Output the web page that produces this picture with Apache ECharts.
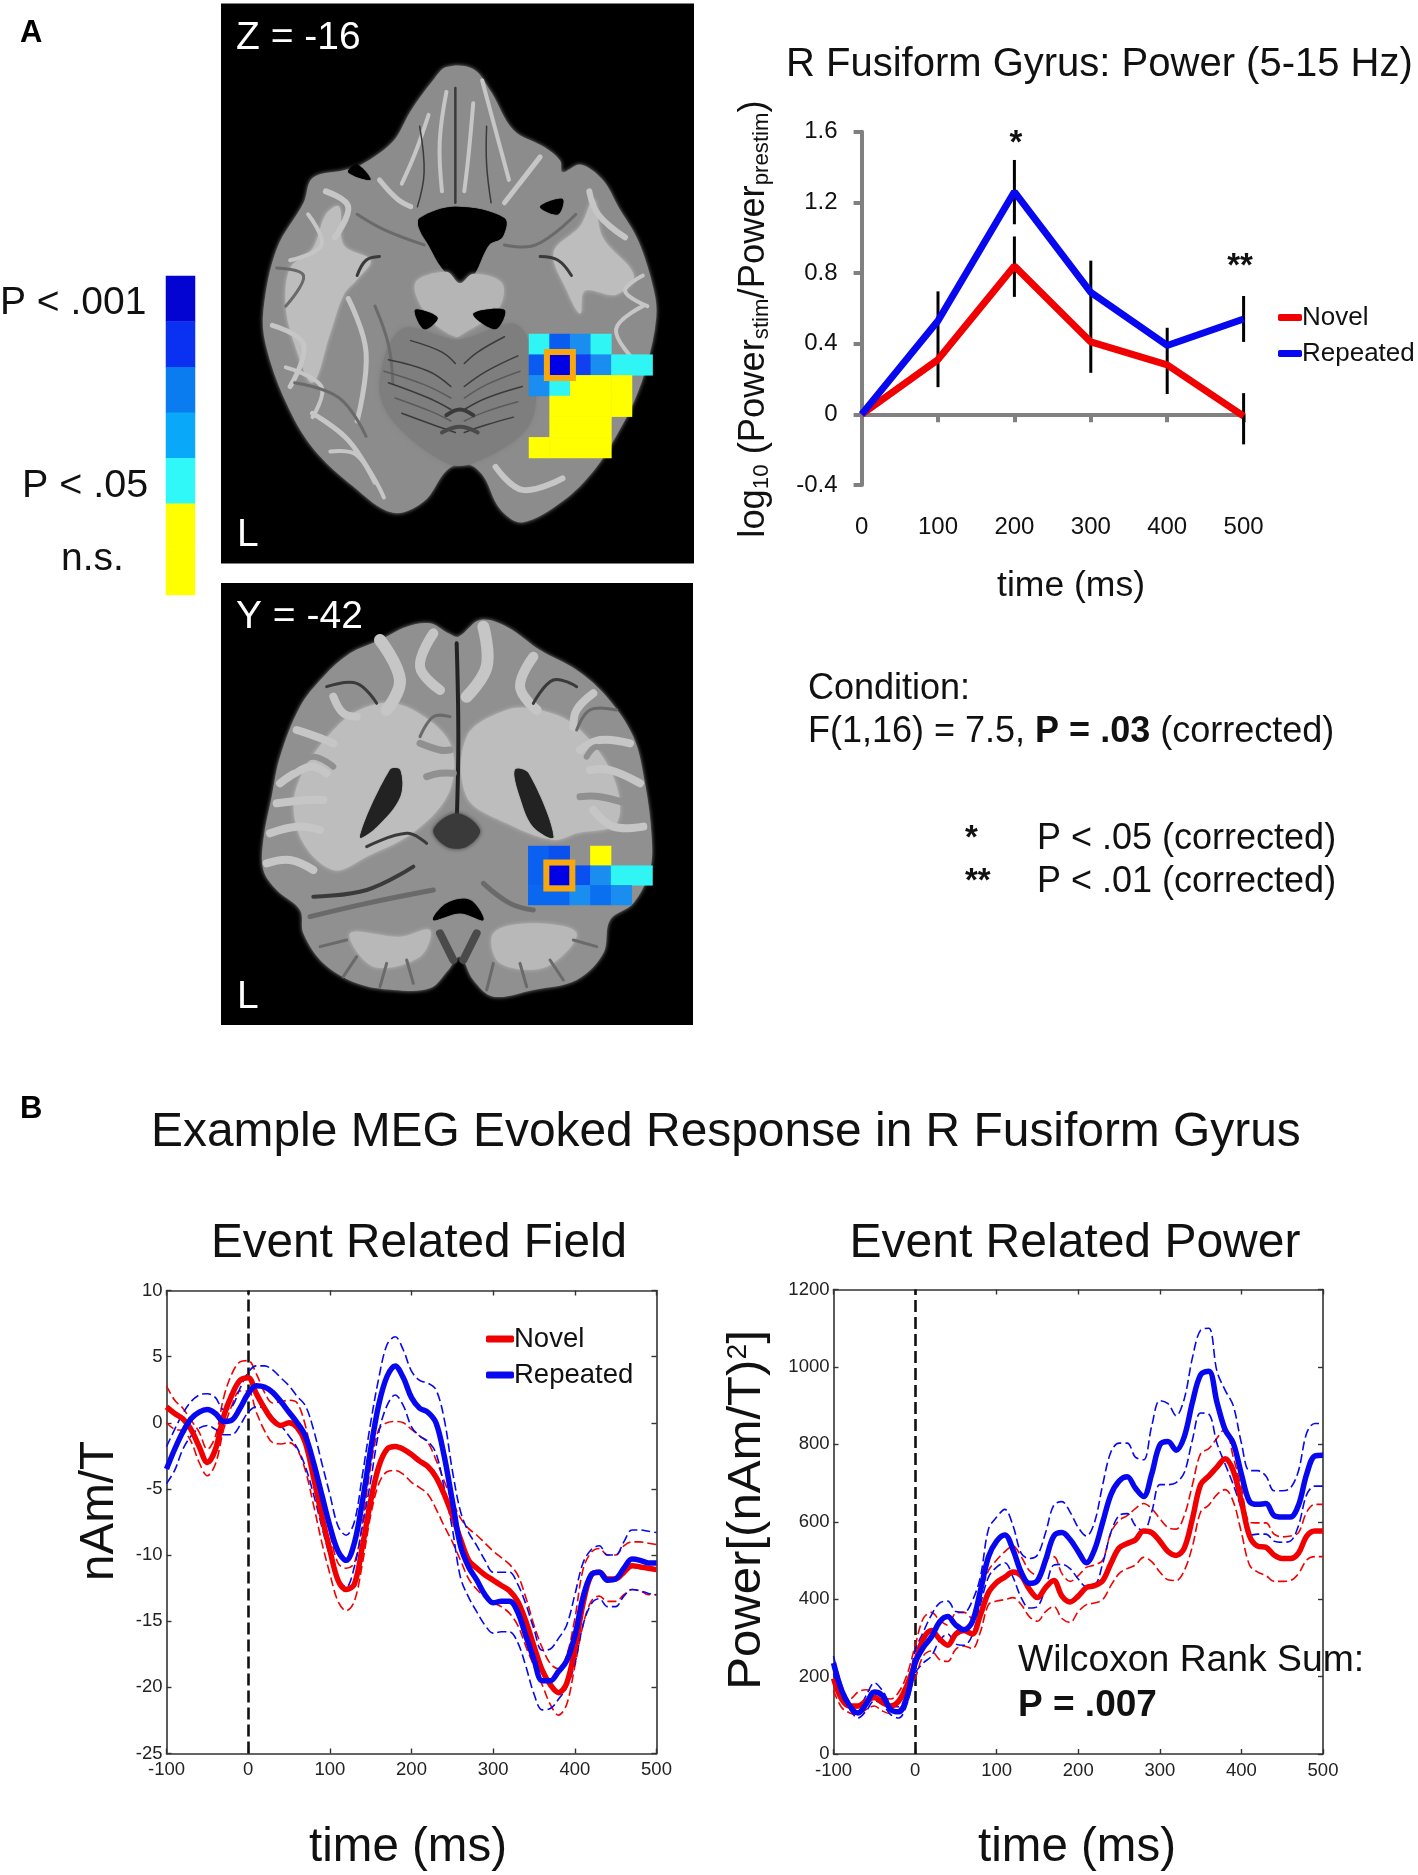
<!DOCTYPE html>
<html><head><meta charset="utf-8">
<style>html,body{margin:0;padding:0;background:#fff}#c{width:1418px;height:1875px}</style>
<script src="https://cdn.jsdelivr.net/npm/echarts@6/dist/echarts.min.js"></script>
</head><body><div id="c"></div>
<script>
// ---------- Panel A line chart ----------
const bandTimes=[0,100,200,300,400,500];
const bandNovel=[0,0.31,0.84,0.41,0.28,-0.01];
const bandRepeated=[0,0.53,1.26,0.69,0.39,0.54];
const errTimes=[100,200,200,300,400,500,500];
const errLow=[0.154,1.076,0.665,0.235,0.115,0.41,-0.17];
const errHigh=[0.696,1.44,1.007,0.87,0.49,0.67,0.12];
// ---------- Panel B time axis ----------
const times=[-100,-90,-80,-70,-60,-50,-40,-30,-20,-10,0,10,20,30,40,50,60,70,80,90,100,110,120,130,140,150,160,170,180,190,200,210,220,230,240,250,260,270,280,290,300,310,320,330,340,350,360,370,380,390,400,410,420,430,440,450,460,470,480,490,500];
// Event related field (nAm/T)
const erfNovel=[1.2,0.7,0.3,-0.5,-1.8,-3.0,-2.0,0.5,2.1,3.2,3.4,2.2,1.1,0.2,-0.2,0,-0.35,-1.5,-4.1,-7,-9.6,-11.9,-12.6,-12.2,-9.3,-5.9,-3.3,-2,-1.8,-2,-2.4,-2.9,-3.3,-4.1,-5.4,-7,-8.8,-10.4,-11,-11.5,-11.9,-12.3,-12.7,-13.5,-15,-16.9,-18.7,-19.8,-20.4,-19.7,-17.1,-13.7,-11.5,-11.3,-11.8,-11.8,-11.3,-10.8,-10.9,-11,-11.1];
const erfNovelHi=[2.8,1.7,1.1,0.2,-0.7,-2,-1,1.9,3.7,4.6,4.7,3.7,2.3,1.5,1.6,1.7,1.5,-0.2,-3,-5.2,-8.3,-10.6,-11,-10.6,-7.5,-3.3,-0.5,0,0.1,0,-0.5,-1,-1.5,-2.8,-4.4,-5.9,-7.2,-8,-8.5,-9.1,-9.7,-10.2,-10.7,-11.5,-13.2,-15.3,-17,-18.2,-18.6,-17.6,-14.8,-11.1,-9.8,-9.5,-10,-10,-9.3,-9,-9,-9.1,-9.2];
const erfNovelLo=[0,-0.5,-0.6,-1.4,-3,-4,-3.1,-0.5,1.3,2.4,2.4,0.8,-0.6,-1.5,-1.6,-1.5,-2,-3.6,-6.2,-9,-11.4,-13.5,-14.2,-13.5,-10.6,-7,-4.6,-3.7,-3.6,-3.9,-4.5,-4.9,-5.4,-6.5,-7.8,-9,-10.4,-11.8,-12.6,-13.2,-13.6,-13.9,-14.4,-15.3,-16.9,-18.4,-19.8,-21.3,-22.1,-21.3,-18.4,-15.3,-13.5,-13.1,-13.5,-13.5,-13,-12.6,-12.7,-13,-13];
const erfRepeated=[-3.5,-2,-0.7,0.3,0.8,1,0.7,0.1,0.2,1.1,2.2,2.8,2.7,2.3,1.6,0.8,0,-1,-3,-5.4,-7.8,-9.7,-10.4,-9.1,-5.9,-2,1.4,3.5,4.3,3.4,1.9,1.1,0.8,0,-2.5,-5.9,-9.3,-10.9,-11.9,-13,-13.6,-13.5,-13.5,-14.3,-16.1,-17.9,-19.5,-19.5,-18.8,-18,-16.1,-13.2,-11.5,-11.3,-11.9,-11.8,-11,-10.3,-10.4,-10.6,-10.6];
const erfRepeatedHi=[-1.8,-0.5,0.7,1.6,2.1,2.2,1.9,1,1.2,2.6,3.8,4.3,4.3,4,3.4,2.8,2,1.3,-0.5,-3,-5.4,-7.8,-8.5,-7.5,-3.9,0,3.4,5.9,6.5,5.5,3.9,3.2,3,2.5,0.3,-3.6,-6.7,-8.3,-9.3,-10.4,-11.3,-11.3,-11.3,-12.2,-13.7,-15.6,-17.2,-17.1,-16.3,-15.3,-13,-10.6,-9.6,-9.3,-10,-10,-9,-8.1,-8.1,-8.2,-8.3];
const erfRepeatedLo=[-4.6,-3.6,-2,-1,-0.4,-0.2,-0.5,-0.9,-0.9,-0.2,0.8,1.2,1.1,0.4,-0.2,-1,-1.9,-3.3,-5.4,-7.8,-10.1,-11.9,-12.4,-10.9,-7.8,-4.4,-0.7,1.3,2.1,1.3,-0.3,-1,-1.4,-2.3,-4.9,-8,-11.7,-13.2,-14.3,-15.3,-15.9,-15.8,-15.8,-16.6,-18.4,-20.5,-21.7,-21.6,-20.9,-20,-18.2,-15.3,-13.7,-13.3,-13.9,-13.9,-13.1,-12.6,-12.7,-12.9,-13];
// Event related power
const erpNovel=[195,142,124,124,137,146,133,124,137,177,235,297,319,297,281,310,319,310,359,417,443,457,470,461,426,404,430,448,408,393,408,430,435,448,492,532,544,553,576,572,550,523,513,532,608,696,718,741,763,732,652,563,537,534,514,505,505,519,563,576,576];
const erpNovelHi=[226,164,142,160,166,160,146,142,160,204,279,350,366,346,333,364,366,350,412,474,501,523,537,510,474,461,501,510,466,446,461,482,488,501,572,603,616,634,647,634,608,585,581,616,696,776,789,816,841,767,687,599,597,597,568,561,563,572,625,645,645];
const erpNovelLo=[164,120,106,102,115,124,111,104,115,151,195,253,266,244,239,271,279,272,315,386,395,399,404,386,355,343,368,381,350,340,368,386,390,399,435,466,479,488,508,497,470,450,448,474,537,625,643,670,683,652,572,488,470,461,446,446,448,466,501,510,510];
const erpRepeated=[235,164,124,106,129,160,151,115,109,146,235,275,302,341,355,333,321,341,421,510,550,566,528,470,441,448,501,563,572,554,523,494,528,599,670,705,716,687,665,723,798,807,785,820,909,980,989,909,838,803,723,652,645,647,616,612,612,643,723,770,772];
const erpRepeatedHi=[253,177,133,120,151,184,164,129,122,160,266,315,359,390,395,368,366,395,457,581,612,632,590,519,505,514,572,643,652,625,585,563,599,696,780,803,803,767,760,847,913,905,874,918,1024,1095,1100,989,940,900,803,732,732,718,680,680,687,732,829,854,854];
const erpRepeatedLo=[208,151,115,93,111,137,129,102,93,129,208,235,253,293,310,284,281,306,386,457,483,494,457,404,377,381,430,488,490,479,452,432,435,492,572,616,621,590,576,625,696,696,701,727,812,881,878,803,749,696,634,565,568,568,550,547,550,590,670,692,692];
// ---------- Significance colour scale and voxels ----------
const scaleCells=[[0,6,'#0404d2'],[0,5,'#0a30f2'],[0,4,'#0a7cf0'],[0,3,'#0aa8f8'],[0,2,'#30f8f8'],[0,1,'#ffff00'],[0,0,'#ffff00']];
const cDark='#0000e6',cBlue='#0a5cf0',cMid='#1a8ef0',cCyan='#30f5f5',cYel='#ffff00';
const zCells=[[0,0,cCyan],[1,0,cBlue],[2,0,cMid],[3,0,cCyan],
 [0,1,cBlue],[1,1,cDark],[2,1,'#1040f0'],[3,1,cMid],[4,1,cCyan],[5,1,cCyan],
 [0,2,cMid],[1,2,cCyan],[2,2,cYel],[3,2,cYel],[4,2,cYel],
 [1,3,cYel],[2,3,cYel],[3,3,cYel],[4,3,cYel],
 [1,4,cYel],[2,4,cYel],[3,4,cYel],
 [0,5,cYel],[1,5,cYel],[2,5,cYel],[3,5,cYel]];
const yCells=[[0,0,'#0a60f0'],[1,0,'#0a50f0'],[3,0,cYel],
 [0,1,'#0a60f0'],[1,1,cDark],[2,1,'#0a50f0'],[3,1,cMid],[4,1,cCyan],[5,1,cCyan],
 [0,2,'#0a68f0'],[1,2,'#0a68f0'],[2,2,cMid],[3,2,'#0a70f0'],[4,2,cMid]];
const colRange6=['0','1','2','3','4','5'];
const zRows=['0','1','2','3','4','5'];
const yRows=['0','1','2'];

const FONT='"Liberation Sans",Arial,sans-serif';
const RED='#f00000',BLUE='#0808f0',GREY='#808080';

// ---------- Backdrop helpers (anatomical slices, not data) ----------
const tz=p=>[p[0]/2.24,p[1]/2.613];
const ty=p=>[p[0]/3+200,p[1]/3+570];
const poly=(pts,fill,tf,z,blur)=>({type:'polygon',z:z||1,shape:{points:pts.map(tf),smooth:0.35},style:{fill,shadowBlur:blur===undefined?4:blur,shadowColor:fill},silent:true});
const stroke=(pts,col,w,tf,z)=>({type:'polyline',z:z||2,shape:{points:pts.map(tf),smooth:0.4},style:{stroke:col,lineWidth:w,fill:null,lineCap:'round',lineJoin:'round'},silent:true});
const L='#c6c6c6',D='#3a3a3a',M='#6a6a6a';
const G='#8c8c8c';
const brainZ=[
 poly([[1000,175],[1060,180],[1100,240],[1150,340],[1220,385],[1255,420],[1260,450],[1300,430],[1350,470],[1385,540],[1430,630],[1465,760],[1470,830],[1450,950],[1420,1050],[1380,1140],[1330,1230],[1260,1310],[1170,1365],[1120,1330],[1080,1240],[1040,1210],[1000,1230],[950,1310],[880,1340],[790,1270],[700,1170],[640,1050],[595,900],[590,810],[620,650],[680,530],[700,465],[770,445],[810,430],[880,370],[920,290],[970,210]],G,tz),
 poly([[650,700],[700,650],[730,560],[760,540],[770,640],[830,680],[800,730],[770,770],[740,870],[700,1000],[660,900],[640,800]],'#bdbdbd',tz),
 poly([[1240,660],[1300,590],[1330,520],[1350,620],[1420,720],[1380,770],[1310,760],[1300,820],[1270,760]],'#bdbdbd',tz),
 poly([[940,570],[1020,540],[1130,570],[1125,620],[1095,640],[1060,720],[1030,740],[990,700],[960,640],[940,600]],'#000',tz,3,1),
 poly([[930,740],[1000,710],[1030,740],[1060,715],[1125,740],[1115,810],[1040,870],[1020,880],[960,830]],'#b5b5b5',tz,3),
 poly([[900,860],[1010,885],[1040,885],[1160,850],[1200,1000],[1180,1120],[1060,1210],[1000,1210],[880,1100],[850,1000]],'#7e7e7e',tz,2),
 poly([[800,430],[830,470],[780,450]],'#000',tz,3,1), poly([[1210,540],[1260,520],[1250,560]],'#000',tz,3,1),
 poly([[1060,820],[1130,810],[1110,860]],'#000',tz,3,1), poly([[930,810],[980,830],[950,860]],'#000',tz,3,1),
 stroke([[960,300],[930,400],[900,480]],L,4,tz), stroke([[1000,240],[985,370],[990,500]],L,4,tz),
 stroke([[1060,270],[1050,400],[1040,500]],L,4,tz), stroke([[1080,210],[1110,340],[1140,470]],L,4,tz),
 stroke([[850,470],[890,520],[920,540]],L,5,tz), stroke([[1210,410],[1170,470],[1130,530]],L,5,tz),
 stroke([[940,330],[950,450],[935,540]],D,1.5,tz), stroke([[1020,230],[1020,400],[1020,530]],D,2.5,tz),
 stroke([[1090,330],[1090,430],[1100,530]],D,1.5,tz), stroke([[800,560],[860,600],[950,640]],M,3,tz),
 stroke([[1130,640],[1200,640],[1290,560]],M,3,tz), stroke([[800,720],[820,680],[850,670]],D,3,tz),
 stroke([[1280,720],[1250,680],[1210,670]],D,3,tz), stroke([[620,700],[680,720],[640,800]],M,3,tz),
 stroke([[610,850],[680,900],[650,1010]],L,5,tz), stroke([[780,780],[820,920],[800,1100]],L,5,tz),
 stroke([[700,1080],[780,1150],[840,1260]],L,5,tz), stroke([[1440,800],[1380,860],[1420,940]],L,4,tz),
 stroke([[1110,1220],[1170,1280],[1260,1250]],L,6,tz),
 stroke([[740,1180],[800,1190],[860,1300]],L,4,tz), stroke([[640,960],[720,1010],[700,1090]],L,4,tz),
 stroke([[730,500],[780,540],[750,620]],L,6,tz), stroke([[1320,500],[1340,560],[1400,620]],L,6,tz),
 stroke([[690,560],[720,640],[650,680]],L,4,tz), stroke([[1440,720],[1400,760],[1450,800]],L,4,tz),
 stroke([[840,800],[870,900],[880,1000]],M,3,tz), stroke([[660,1000],[760,1040],[820,1140]],M,3,tz),
 stroke([[870,940],[960,970],[1010,1010]],D,1.5,tz), stroke([[1160,930],[1090,970],[1040,1010]],D,1.5,tz),
 stroke([[870,1000],[960,1040],[1010,1070]],D,1.5,tz), stroke([[1170,1010],[1090,1040],[1040,1070]],D,1.5,tz),
 stroke([[900,1080],[970,1110],[1020,1130]],D,1.5,tz), stroke([[1150,1090],[1090,1110],[1040,1130]],D,1.5,tz),
 stroke([[920,890],[990,920],[1020,950]],D,1.5,tz), stroke([[1130,880],[1070,920],[1040,950]],D,1.5,tz),
 stroke([[860,970],[950,1005],[1010,1040]],'#5a5a5a',1.5,tz), stroke([[1165,970],[1090,1005],[1040,1040]],'#5a5a5a',1.5,tz),
 stroke([[885,1040],[965,1075],[1010,1100]],'#5a5a5a',1.5,tz), stroke([[1160,1050],[1090,1075],[1040,1100]],'#5a5a5a',1.5,tz),
 stroke([[1000,1085],[1030,1070],[1060,1085]],D,4,tz), stroke([[990,1130],[1030,1115],[1070,1130]],'#4a4a4a',4,tz)
];
const GY='#909090';
const brainY=[
 poly([[745,190],[690,160],[620,170],[540,210],[450,250],[370,320],[300,410],[240,560],[215,680],[190,810],[190,900],[230,960],[300,1020],[310,1090],[370,1180],[470,1240],[580,1260],[690,1255],[745,1200],[780,1160],[820,1230],[880,1280],[1000,1260],[1130,1230],[1210,1150],[1230,1050],[1300,1000],[1350,900],[1355,800],[1335,640],[1300,500],[1220,380],[1130,300],[1020,240],[920,170],[840,150],[775,200]],GY,ty),
 poly([[420,460],[540,400],[640,420],[750,520],[750,660],[650,780],[500,860],[400,900],[300,800],[290,650]],'#bdbdbd',ty),
 poly([[800,500],[920,420],[1020,420],[1130,470],[1240,620],[1250,760],[1130,790],[1060,810],[920,760],[800,680]],'#bdbdbd',ty),
 poly([[600,600],[570,600],[480,800],[530,770],[600,680]],'#222',ty,3,1),
 poly([[945,600],[985,610],[1060,800],[1000,770],[960,680]],'#222',ty,3,1),
 poly([[450,1090],[600,1100],[690,1080],[660,1160],[520,1190]],'#b8b8b8',ty),
 poly([[880,1090],[1000,1060],[1130,1090],[1040,1190],[900,1180]],'#b8b8b8',ty),
 poly([[700,1050],[740,1000],[810,990],[850,1050],[780,1030]],'#000',ty,3,1),
 stroke([[770,220],[775,500],[770,760]],'#222',4,ty),
 poly([[700,780],[770,730],[840,780],[800,830],[740,830]],'#3a3a3a',ty,3),
 stroke([[540,210],[600,330],[560,420]],L,12,ty), stroke([[700,190],[660,290],[720,360]],L,10,ty),
 stroke([[850,170],[860,290],[800,380]],L,12,ty), stroke([[1000,260],[960,350],[1010,420]],L,10,ty),
 stroke([[380,350],[470,340],[530,400]],D,3,ty), stroke([[1000,400],[1060,330],[1130,350]],D,3,ty),
 stroke([[240,640],[330,590],[380,610]],L,8,ty), stroke([[230,700],[320,690],[370,690]],L,8,ty),
 stroke([[210,790],[290,770],[360,780]],L,8,ty), stroke([[200,880],[270,870],[340,900]],L,8,ty),
 stroke([[1320,640],[1230,600],[1170,600]],L,8,ty), stroke([[1330,770],[1240,770],[1180,720]],L,8,ty),
 stroke([[1290,520],[1200,510],[1140,540]],L,8,ty), stroke([[1180,370],[1130,420],[1120,470]],L,8,ty),
 stroke([[400,380],[430,430],[470,440]],L,8,ty), stroke([[290,480],[350,500],[400,520]],L,8,ty),
 stroke([[660,500],[700,440],[750,440]],M,3,ty), stroke([[1250,420],[1170,420],[1130,480]],M,3,ty),
 stroke([[280,590],[340,560],[400,590]],GY,6,ty), stroke([[1280,700],[1200,680],[1140,680]],GY,7,ty),
 stroke([[660,520],[720,540],[750,540]],GY,7,ty), stroke([[680,620],[720,610],[760,610]],GY,7,ty),
 stroke([[1240,560],[1190,530],[1160,560]],GY,6,ty),
 stroke([[500,830],[620,790],[680,820]],D,3,ty), stroke([[340,980],[500,960],[640,890]],D,4,ty),
 stroke([[330,1040],[500,1000],[700,960]],M,5,ty), stroke([[850,940],[930,1000],[1000,1020]],M,5,ty),
 stroke([[360,1130],[440,1110]],M,3,ty), stroke([[430,1220],[470,1160]],M,3,ty), stroke([[540,1250],[560,1180]],M,3,ty), stroke([[640,1240],[620,1170]],M,3,ty),
 stroke([[860,1260],[880,1180]],M,3,ty), stroke([[980,1250],[960,1180]],M,3,ty), stroke([[1090,1230],[1050,1170]],M,3,ty), stroke([[1190,1130],[1120,1110]],M,3,ty),
 stroke([[720,1090],[760,1170]],'#4a4a4a',8,ty), stroke([[830,1090],[790,1170]],'#4a4a4a',8,ty)
];
const txt=(text,x,y,size,opts)=>({type:'text',z:5,x,y:y+2.5,style:Object.assign({text,fill:'#111',font:size+'px '+FONT,textAlign:'left',textVerticalAlign:'middle'},opts||{})});
const blackPanel=(x,y,w,h)=>({type:'rect',z:0,shape:{x,y,width:w,height:h},style:{fill:'#000'},silent:true});

const graphicEls=[
 blackPanel(221,3.5,473,560), blackPanel(221,583,472,442),
 ...brainZ, ...brainY,
 txt('Z = -16',236,36,39,{fill:'#fff'}), txt('L',237,533,39,{fill:'#fff'}),
 txt('Y = -42',236,615,39,{fill:'#fff'}), txt('L',237,995,39,{fill:'#fff'}),
 txt('A',20,31,31,{font:'bold 31px '+FONT,fill:'#000'}), txt('B',20,1107,31,{font:'bold 31px '+FONT,fill:'#000'}),
 txt('P < .001',0,301,39), txt('P < .05',22,484,39.5), txt('n.s.',61,557,39),
 txt('R Fusiform Gyrus: Power (5-15 Hz)',786,62,40),
 txt('time (ms)',1071,583.5,35.5,{textAlign:'center'}),
 txt('Condition:',808,686.5,36),
 {type:'text',z:5,x:808,y:732.5,style:{rich:{b:{font:'bold 36px '+FONT,fill:'#111'},n:{font:'36px '+FONT,fill:'#111'}},text:'{n|F(1,16) = 7.5, }{b|P = .03}{n| (corrected)}',textVerticalAlign:'middle'}},
 txt('*',965,836.5,33,{font:'bold 33px '+FONT}), txt('P < .05 (corrected)',1037,836.5,36),
 txt('**',965,879.5,33,{font:'bold 33px '+FONT}), txt('P < .01 (corrected)',1037,879.5,36),
 txt('*',1016,141,33,{font:'bold 33px '+FONT,textAlign:'center'}),
 txt('**',1240,264,33,{font:'bold 33px '+FONT,textAlign:'center'}),
 txt('Example MEG Evoked Response in R Fusiform Gyrus',151,1130,47.9),
 txt('Event Related Field',419,1241,47.7,{textAlign:'center'}),
 txt('Event Related Power',1075,1241,48,{textAlign:'center'}),
 txt('time (ms)',408,1845,47.5,{textAlign:'center'}),
 txt('time (ms)',1077,1845,47.5,{textAlign:'center'}),
 txt('Wilcoxon Rank Sum:',1018,1658,37.3),
 txt('P = .007',1018,1703,37,{font:'bold 37px '+FONT}),
 {type:'text',z:5,x:100,y:1511,rotation:Math.PI/2,style:{text:'nAm/T',fill:'#111',font:'47.5px '+FONT,textAlign:'center',textVerticalAlign:'middle'}},
 {type:'text',z:5,x:754,y:319,rotation:Math.PI/2,scaleX:1.01,style:{rich:{a:{font:'36px '+FONT,fill:'#111'},s:{font:'22px '+FONT,fill:'#111',padding:[15,0,0,0]}},text:'{a|log}{s|10}{a| (Power}{s|stim}{a|/Power}{s|prestim}{a|)}',textAlign:'center',textVerticalAlign:'middle'}},
 {type:'text',z:5,x:747,y:1510,rotation:Math.PI/2,scaleX:1.045,style:{rich:{a:{font:'47px '+FONT,fill:'#111'},s:{font:'27px '+FONT,fill:'#111',padding:[0,0,16,0]}},text:'{a|Power[(nAm/T)}{s|2}{a|]}',textAlign:'center',textVerticalAlign:'middle'}}
];

const zipT=(arr)=>times.map((t,i)=>[t,arr[i]]);
const bandLine=(name,xs,ys,col)=>({name,type:'line',xAxisIndex:0,yAxisIndex:0,data:xs.map((t,i)=>[t,ys[i]]),symbol:'none',lineStyle:{color:col,width:7},itemStyle:{color:col},z:4,animation:false});
const thick=(name,arr,col,xi,yi,z)=>({name,type:'line',xAxisIndex:xi,yAxisIndex:yi,data:zipT(arr),symbol:'none',smooth:0.35,lineStyle:{color:col,width:5.5},itemStyle:{color:col},z:z,animation:false});
const thin=(arr,col,xi,yi,z)=>({type:'line',xAxisIndex:xi,yAxisIndex:yi,data:zipT(arr),symbol:'none',smooth:0.35,lineStyle:{color:col,width:1.6,type:[9,4]},z:z,animation:false,silent:true});
const zeroMark={silent:true,symbol:'none',animation:false,label:{show:false},lineStyle:{color:'#111',width:2.6,type:[12,5]},data:[{xAxis:0}]};
const heat=(name,xi,yi,data)=>({name,type:'heatmap',xAxisIndex:xi,yAxisIndex:yi,data:data.map(d=>({value:[d[0],d[1],1],itemStyle:{color:d[2]}})),z:4,silent:true,animation:false,progressive:0});
const focus=(xi,yi)=>({type:'scatter',xAxisIndex:xi,yAxisIndex:yi,data:[[1,1]],symbol:'rect',symbolSize:26,itemStyle:{color:'rgba(0,0,0,0)',borderColor:'#f8a80c',borderWidth:6,opacity:1},z:6,silent:true,animation:false});

const hidCat=(data,g,inv)=>({type:'category',gridIndex:g,data,show:false,inverse:!!inv});
const plain=v=>String(v);
const frameX=(g,pos,lab)=>({type:'value',gridIndex:g,min:-100,max:500,interval:100,position:pos,
  axisLine:{onZero:false,lineStyle:{color:'#333',width:1.6}},axisTick:{inside:true,length:5,lineStyle:{color:'#333',width:1.4}},
  axisLabel:lab?{show:true,color:'#222',fontFamily:FONT,fontSize:18.5,margin:7,showMinLabel:true,showMaxLabel:true,formatter:plain}:{show:false},splitLine:{show:false}});
const frameY=(g,pos,lab,min,max,interval)=>({type:'value',gridIndex:g,min,max,interval,position:pos,
  axisLine:{onZero:false,lineStyle:{color:'#333',width:1.6}},axisTick:{inside:true,length:5,lineStyle:{color:'#333',width:1.4}},
  axisLabel:lab?{show:true,color:'#222',fontFamily:FONT,fontSize:18.5,margin:4,showMinLabel:true,showMaxLabel:true,formatter:plain}:{show:false},splitLine:{show:false}});

const option={
 backgroundColor:'#fff',animation:false,
 graphic:{elements:graphicEls},
 legend:[
  {data:['Novel','Repeated'].map(n=>({name:n,icon:'roundRect'})),orient:'vertical',left:1273,top:299.5,itemWidth:24,itemHeight:7,itemGap:10,textStyle:{fontFamily:FONT,fontSize:26,color:'#111',padding:[0,0,0,-5]},selectedMode:false},
  {data:['ERF Novel','ERF Repeated'].map(n=>({name:n,icon:'roundRect'})),orient:'vertical',left:481,top:1320,itemWidth:28,itemHeight:7,itemGap:8,formatter:n=>n.replace('ERF ',''),textStyle:{fontFamily:FONT,fontSize:27.5,color:'#111',padding:[0,0,0,-5]},selectedMode:false}
 ],
 grid:[
  {left:861.6,top:131.7,width:382,height:353.3,containLabel:false},
  {left:166.5,top:1290.5,width:490,height:463,containLabel:false},
  {left:833.5,top:1289.5,width:489.5,height:464.5,containLabel:false},
  {left:166,top:276,width:29,height:319},
  {left:529,top:334,width:123.6,height:124},
  {left:528.3,top:846,width:124.2,height:59}
 ],
 xAxis:[
  {type:'value',gridIndex:0,min:0,max:500,interval:100,position:'bottom',axisLine:{onZero:true,lineStyle:{color:GREY,width:4}},axisTick:{show:true,length:8,lineStyle:{color:GREY,width:4}},axisLabel:{color:'#111',fontFamily:FONT,fontSize:24,margin:30,showMinLabel:true,showMaxLabel:true},splitLine:{show:false}},
  frameX(1,'bottom',true),frameX(1,'top',false),
  frameX(2,'bottom',true),frameX(2,'top',false),
  hidCat(['a'],3),
  hidCat(colRange6,4),
  hidCat(colRange6,5)
 ],
 yAxis:[
  {type:'value',gridIndex:0,min:-0.4,max:1.6,interval:0.4,axisLine:{show:true,onZero:false,lineStyle:{color:GREY,width:4}},axisTick:{show:true,length:8,lineStyle:{color:GREY,width:4}},axisLabel:{color:'#111',fontFamily:FONT,fontSize:24,margin:24,padding:[9,0,0,0],showMinLabel:true,showMaxLabel:true},splitLine:{show:false}},
  frameY(1,'left',true,-25,10,5),frameY(1,'right',false,-25,10,5),
  frameY(2,'left',true,0,1200,200),frameY(2,'right',false,0,1200,200),
  hidCat(['0','1','2','3','4','5','6'],3),
  hidCat(zRows,4,true),
  hidCat(yRows,5,true)
 ],
 series:[
  {type:'custom',xAxisIndex:0,yAxisIndex:0,silent:true,z:3,animation:false,
   data:errTimes.map((t,i)=>[t,errLow[i],errHigh[i]]),
   renderItem:(p,api)=>{const a=api.coord([api.value(0),api.value(1)]),b=api.coord([api.value(0),api.value(2)]);
     return {type:'line',shape:{x1:a[0],y1:a[1],x2:b[0],y2:b[1]},style:{stroke:'#000',lineWidth:3}};}},
  bandLine('Novel',bandTimes,bandNovel,RED),
  bandLine('Repeated',bandTimes,bandRepeated,BLUE),
  Object.assign(thick('ERF Novel',erfNovel,RED,1,1,6),{markLine:zeroMark}),
  thin(erfNovelHi,RED,1,1,5),thin(erfNovelLo,RED,1,1,5),
  thick('ERF Repeated',erfRepeated,BLUE,1,1,7),
  thin(erfRepeatedHi,BLUE,1,1,5),thin(erfRepeatedLo,BLUE,1,1,5),
  Object.assign(thick('ERP Novel',erpNovel,RED,3,3,6),{markLine:zeroMark}),
  thin(erpNovelHi,RED,3,3,5),thin(erpNovelLo,RED,3,3,5),
  thick('ERP Repeated',erpRepeated,BLUE,3,3,7),
  thin(erpRepeatedHi,BLUE,3,3,5),thin(erpRepeatedLo,BLUE,3,3,5),
  heat('scale',5,5,scaleCells),
  heat('Z voxels',6,6,zCells),
  heat('Y voxels',7,7,yCells),
  focus(6,6),focus(7,7)
 ]
};
const chart=echarts.init(document.getElementById('c'),null,{renderer:'canvas',width:1418,height:1875});
chart.setOption(option);
</script></body></html>
